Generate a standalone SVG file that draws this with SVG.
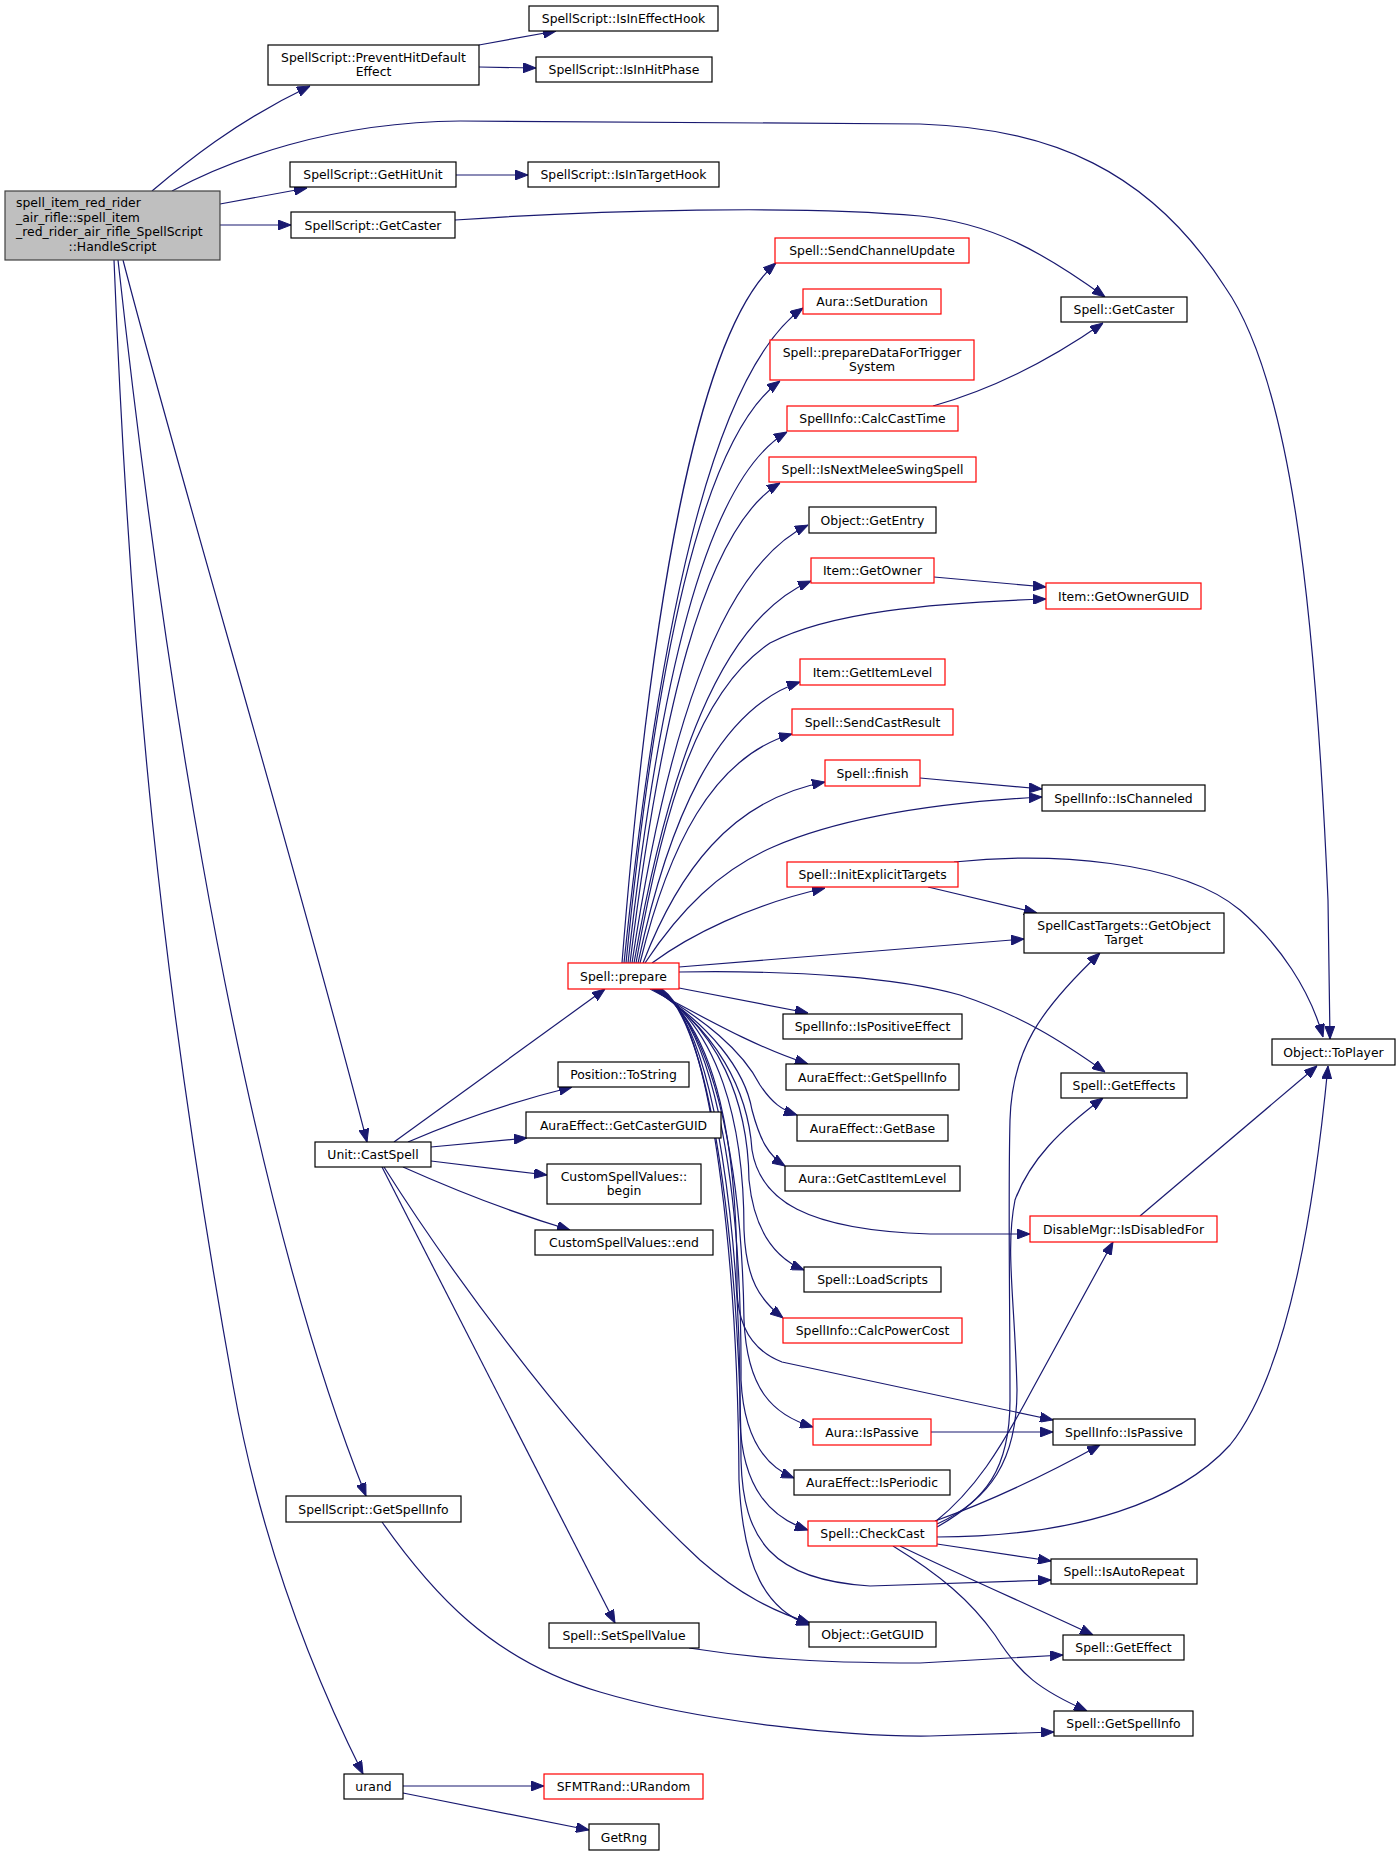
<svg xmlns="http://www.w3.org/2000/svg" width="1400" height="1856" viewBox="0 0 1400 1856">
<defs>
<style>
.n rect{fill:#ffffff;stroke:#000000;stroke-width:1.2}
.n.r rect{stroke:#ff0000}
.n.g rect{fill:#bfbfbf;stroke:#404040}
text{font-family:"DejaVu Sans","Liberation Sans",sans-serif;font-size:12.4px;fill:#000000;text-anchor:middle}
text.l{text-anchor:start}
#edges path{fill:none;stroke:#191970;stroke-width:1.2;marker-end:url(#a)}
</style>
<marker id="a" markerUnits="userSpaceOnUse" markerWidth="13" markerHeight="10" viewBox="0 0 13 10" refX="13" refY="5" orient="auto"><path d="M0,0 L13,5 L0,10 z" fill="#191970" stroke="#191970" stroke-width="1"/></marker>
</defs>
<rect x="0" y="0" width="1400" height="1856" fill="#ffffff"/>
<g id="edges">
<path d="M152,191 C185,163 235,122 310,86"/>
<path d="M172,191 C230,160 330,122 460,121 L920,124 C1050,128 1150,170 1225,287 C1290,380 1315,600 1328,900 L1330,1039"/>
<path d="M220,204 L307,188"/>
<path d="M220,225 L291,225"/>
<path d="M123,260 C180,480 300,880 367,1142"/>
<path d="M118,260 C151,560 226,1146 366,1496"/>
<path d="M114,260 C130,660 161,985 233,1385 C256,1515 298,1644 363,1774"/>
<path d="M479,45 L556,31"/>
<path d="M479,67 L536,68"/>
<path d="M456,175 L528,175"/>
<path d="M455,220 C600,210 800,205 920,216 C990,223 1040,250 1105,297"/>
<path d="M933,406 C990,390 1050,360 1103,323"/>
<path d="M394,1142 L605,989"/>
<path d="M408,1142 C440,1128 500,1105 572,1087"/>
<path d="M431,1147 L527,1138"/>
<path d="M431,1161 L547,1175"/>
<path d="M403,1167 C450,1188 510,1212 570,1230"/>
<path d="M382,1167 L615,1623"/>
<path d="M384,1167 C430,1240 560,1430 700,1560 C740,1595 775,1612 810,1623"/>
<path d="M382,1522 C430,1590 490,1660 600,1692 C700,1722 850,1737 930,1736 L1054,1732"/>
<path d="M403,1786 L544,1786"/>
<path d="M403,1793 L589,1830"/>
<path d="M689,1648 C740,1656 800,1663 920,1663 L1063,1655"/>
<path d="M934,577 L1046,587"/>
<path d="M920,778 L1042,789"/>
<path d="M928,887 L1037,913"/>
<path d="M954,862 C1050,852 1180,860 1240,910 C1280,945 1310,990 1323,1037"/>
<path d="M931,1432 L1053,1432"/>
<path d="M1140,1216 L1317,1066"/>
<path d="M679,967 L1024,939"/>
<path d="M679,972 C800,970 900,978 960,995 C1020,1015 1060,1040 1105,1072"/>
<path d="M679,988 L808,1013"/>
<path d="M622,963 C650,612 696,332 776,263"/>
<path d="M624,963 C658,636 710,374 803,308"/>
<path d="M626,963 C655,672 700,439 780,381"/>
<path d="M628,963 C658,695 703,481 787,432"/>
<path d="M630,963 C660,722 702,530 780,483"/>
<path d="M632,963 C665,744 717,569 808,525"/>
<path d="M634,963 C668,770 719,620 811,581"/>
<path d="M636,963 C665,800 700,690 770,643 C830,612 930,603 1046,599"/>
<path d="M638,963 C668,822 716,710 800,682"/>
<path d="M640,963 C668,848 712,757 792,734"/>
<path d="M643,963 C678,873 730,800 825,782"/>
<path d="M645,963 C680,910 720,870 773,847 C840,818 930,803 1042,797"/>
<path d="M652,963 C690,935 750,905 825,888"/>
<path d="M650,989 C700,1015 750,1045 808,1064"/>
<path d="M652,989 C705,1020 742,1050 760,1085 C772,1103 782,1110 797,1115"/>
<path d="M653,989 C710,1025 745,1070 752,1110 C760,1140 768,1155 785,1166"/>
<path d="M654,989 C716,1030 748,1090 752,1150 C760,1200 805,1230 930,1234 L1030,1234"/>
<path d="M655,989 C718,1030 748,1100 749,1180 C754,1230 775,1258 804,1270"/>
<path d="M656,989 C718,1030 744,1120 744,1230 C746,1280 760,1300 783,1318"/>
<path d="M657,989 C718,1030 738,1150 737,1290 C738,1330 756,1352 782,1362 L1053,1420"/>
<path d="M658,989 C718,1030 742,1180 744,1320 C747,1390 773,1415 813,1427"/>
<path d="M659,989 C718,1030 742,1200 741,1380 C744,1440 767,1467 794,1478"/>
<path d="M660,989 C718,1030 741,1250 740,1420 C742,1490 772,1518 808,1530"/>
<path d="M661,989 C718,1030 741,1300 741,1460 C743,1540 772,1580 870,1586 L1051,1580"/>
<path d="M662,989 C718,1030 738,1300 739,1480 C743,1570 767,1610 809,1625"/>
<path d="M937,1527 C985,1500 1010,1470 1010,1400 C1010,1300 1008,1200 1010,1120 C1012,1050 1040,1010 1100,953"/>
<path d="M937,1524 C990,1500 1017,1460 1017,1390 C1015,1300 1005,1250 1015,1200 C1030,1160 1060,1130 1103,1098"/>
<path d="M935,1522 C975,1490 1000,1450 1032,1390 L1113,1242"/>
<path d="M935,1521 C980,1505 1040,1478 1100,1445"/>
<path d="M937,1537 C1080,1537 1180,1500 1230,1445 C1290,1370 1315,1200 1328,1066"/>
<path d="M937,1544 L1051,1561"/>
<path d="M900,1546 C960,1575 1040,1610 1093,1635"/>
<path d="M893,1546 C940,1575 970,1600 995,1635 C1020,1675 1040,1690 1087,1711"/>
</g>
<g id="n_main" class="n g"><rect x="5" y="191" width="215" height="69"/><text class="l" x="16" y="207">spell_item_red_rider</text><text class="l" x="16" y="221.5">_air_rifle::spell_item</text><text class="l" x="16" y="236">_red_rider_air_rifle_SpellScript</text><text x="112.5" y="250.5">::HandleScript</text></g>
<g id="n_prevent" class="n"><rect x="268" y="45" width="211" height="40"/><text x="373.5" y="61.5">SpellScript::PreventHitDefault</text><text x="373.5" y="76">Effect</text></g>
<g id="n_effhook" class="n"><rect x="529" y="6" width="189" height="25"/><text x="623.5" y="23">SpellScript::IsInEffectHook</text></g>
<g id="n_hitphase" class="n"><rect x="536" y="57" width="176" height="25"/><text x="624" y="74">SpellScript::IsInHitPhase</text></g>
<g id="n_hitunit" class="n"><rect x="290" y="162" width="166" height="25"/><text x="373" y="179">SpellScript::GetHitUnit</text></g>
<g id="n_targethook" class="n"><rect x="528" y="162" width="191" height="25"/><text x="623.5" y="179">SpellScript::IsInTargetHook</text></g>
<g id="n_ssgetcaster" class="n"><rect x="291" y="212" width="164" height="26"/><text x="373" y="229.5">SpellScript::GetCaster</text></g>
<g id="n_toplayer" class="n"><rect x="1272" y="1039" width="123" height="26"/><text x="1333.5" y="1056.5">Object::ToPlayer</text></g>
<g id="n_sgetcaster" class="n"><rect x="1061" y="297" width="126" height="25"/><text x="1124" y="314">Spell::GetCaster</text></g>
<g id="n_sendchannel" class="n r"><rect x="775" y="238" width="194" height="25"/><text x="872" y="255">Spell::SendChannelUpdate</text></g>
<g id="n_setduration" class="n r"><rect x="803" y="289" width="138" height="25"/><text x="872" y="306">Aura::SetDuration</text></g>
<g id="n_preparedata" class="n r"><rect x="770" y="340" width="204" height="40"/><text x="872" y="356.5">Spell::prepareDataForTrigger</text><text x="872" y="371">System</text></g>
<g id="n_calccast" class="n r"><rect x="787" y="406" width="171" height="25"/><text x="872.5" y="423">SpellInfo::CalcCastTime</text></g>
<g id="n_nextmelee" class="n r"><rect x="769" y="457" width="207" height="25"/><text x="872.5" y="474">Spell::IsNextMeleeSwingSpell</text></g>
<g id="n_getentry" class="n"><rect x="809" y="507" width="127" height="26"/><text x="872.5" y="524.5">Object::GetEntry</text></g>
<g id="n_getowner" class="n r"><rect x="811" y="558" width="123" height="25"/><text x="872.5" y="575">Item::GetOwner</text></g>
<g id="n_ownerguid" class="n r"><rect x="1046" y="583" width="155" height="26"/><text x="1123.5" y="600.5">Item::GetOwnerGUID</text></g>
<g id="n_itemlevel" class="n r"><rect x="800" y="659" width="145" height="26"/><text x="872.5" y="676.5">Item::GetItemLevel</text></g>
<g id="n_castresult" class="n r"><rect x="792" y="709" width="161" height="26"/><text x="872.5" y="726.5">Spell::SendCastResult</text></g>
<g id="n_finish" class="n r"><rect x="825" y="760" width="95" height="26"/><text x="872.5" y="777.5">Spell::finish</text></g>
<g id="n_channeled" class="n"><rect x="1042" y="785" width="163" height="26"/><text x="1123.5" y="802.5">SpellInfo::IsChanneled</text></g>
<g id="n_initexplicit" class="n r"><rect x="787" y="862" width="171" height="25"/><text x="872.5" y="879">Spell::InitExplicitTargets</text></g>
<g id="n_objtarget" class="n"><rect x="1024" y="913" width="200" height="40"/><text x="1124" y="929.5">SpellCastTargets::GetObject</text><text x="1124" y="944">Target</text></g>
<g id="n_prepare" class="n r"><rect x="568" y="963" width="111" height="26"/><text x="623.5" y="980.5">Spell::prepare</text></g>
<g id="n_positive" class="n"><rect x="783" y="1014" width="179" height="25"/><text x="872.5" y="1031">SpellInfo::IsPositiveEffect</text></g>
<g id="n_aegetspellinfo" class="n"><rect x="786" y="1064" width="173" height="26"/><text x="872.5" y="1081.5">AuraEffect::GetSpellInfo</text></g>
<g id="n_getbase" class="n"><rect x="797" y="1115" width="151" height="26"/><text x="872.5" y="1132.5">AuraEffect::GetBase</text></g>
<g id="n_castitemlevel" class="n"><rect x="785" y="1166" width="175" height="25"/><text x="872.5" y="1183">Aura::GetCastItemLevel</text></g>
<g id="n_geteffects" class="n"><rect x="1061" y="1073" width="126" height="25"/><text x="1124" y="1090">Spell::GetEffects</text></g>
<g id="n_disable" class="n r"><rect x="1030" y="1216" width="187" height="26"/><text x="1123.5" y="1233.5">DisableMgr::IsDisabledFor</text></g>
<g id="n_loadscripts" class="n"><rect x="804" y="1267" width="137" height="25"/><text x="872.5" y="1284">Spell::LoadScripts</text></g>
<g id="n_powercost" class="n r"><rect x="783" y="1318" width="179" height="25"/><text x="872.5" y="1335">SpellInfo::CalcPowerCost</text></g>
<g id="n_castspell" class="n"><rect x="315" y="1142" width="116" height="25"/><text x="373" y="1159">Unit::CastSpell</text></g>
<g id="n_tostring" class="n"><rect x="558" y="1062" width="131" height="25"/><text x="623.5" y="1079">Position::ToString</text></g>
<g id="n_casterguid" class="n"><rect x="526" y="1112" width="195" height="26"/><text x="623.5" y="1129.5">AuraEffect::GetCasterGUID</text></g>
<g id="n_begin" class="n"><rect x="547" y="1164" width="154" height="40"/><text x="624" y="1180.5">CustomSpellValues::</text><text x="624" y="1195">begin</text></g>
<g id="n_end" class="n"><rect x="535" y="1230" width="178" height="25"/><text x="624" y="1247">CustomSpellValues::end</text></g>
<g id="n_aurapassive" class="n r"><rect x="813" y="1419" width="118" height="26"/><text x="872" y="1436.5">Aura::IsPassive</text></g>
<g id="n_sipassive" class="n"><rect x="1053" y="1419" width="142" height="26"/><text x="1124" y="1436.5">SpellInfo::IsPassive</text></g>
<g id="n_periodic" class="n"><rect x="794" y="1470" width="156" height="25"/><text x="872" y="1487">AuraEffect::IsPeriodic</text></g>
<g id="n_checkcast" class="n r"><rect x="808" y="1521" width="129" height="25"/><text x="872.5" y="1538">Spell::CheckCast</text></g>
<g id="n_autorepeat" class="n"><rect x="1051" y="1559" width="146" height="25"/><text x="1124" y="1576">Spell::IsAutoRepeat</text></g>
<g id="n_getguid" class="n"><rect x="809" y="1622" width="127" height="25"/><text x="872.5" y="1639">Object::GetGUID</text></g>
<g id="n_setspellvalue" class="n"><rect x="549" y="1623" width="150" height="25"/><text x="624" y="1640">Spell::SetSpellValue</text></g>
<g id="n_geteffect" class="n"><rect x="1063" y="1635" width="121" height="25"/><text x="1123.5" y="1652">Spell::GetEffect</text></g>
<g id="n_ssgetspellinfo" class="n"><rect x="286" y="1496" width="175" height="26"/><text x="373.5" y="1513.5">SpellScript::GetSpellInfo</text></g>
<g id="n_sgetspellinfo" class="n"><rect x="1054" y="1711" width="139" height="25"/><text x="1123.5" y="1728">Spell::GetSpellInfo</text></g>
<g id="n_urand" class="n"><rect x="344" y="1774" width="59" height="25"/><text x="373.5" y="1791">urand</text></g>
<g id="n_urandom" class="n r"><rect x="544" y="1774" width="159" height="25"/><text x="623.5" y="1791">SFMTRand::URandom</text></g>
<g id="n_getrng" class="n"><rect x="589" y="1824" width="70" height="26"/><text x="624" y="1841.5">GetRng</text></g>
</svg>
